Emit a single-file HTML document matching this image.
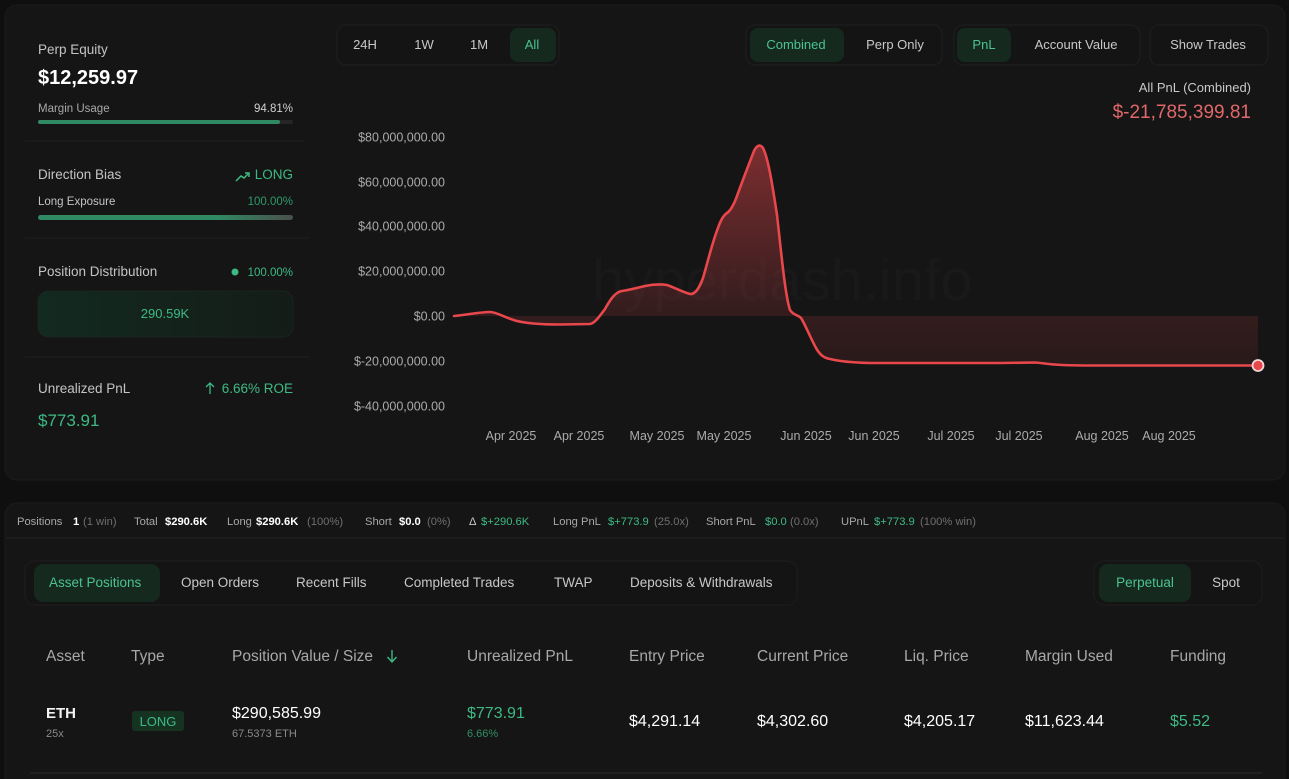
<!DOCTYPE html>
<html><head><meta charset="utf-8"><style>
html,body{margin:0;padding:0;background:#0f0f0f;}
svg{display:block;}
text{font-family:"Liberation Sans",Arial,sans-serif;}
</style></head><body>
<svg width="1289" height="779" viewBox="0 0 1289 779" xmlns="http://www.w3.org/2000/svg">
<defs>
<linearGradient id="area" gradientUnits="userSpaceOnUse" x1="0" y1="140" x2="0" y2="370">
<stop offset="0" stop-color="#e8474c" stop-opacity="0.5"/>
<stop offset="0.74" stop-color="#e8474c" stop-opacity="0.15"/>
<stop offset="1" stop-color="#e8474c" stop-opacity="0.09"/>
</linearGradient>
<linearGradient id="exp" x1="0" x2="1" y1="0" y2="0">
<stop offset="0" stop-color="#2f8a63"/><stop offset="0.7" stop-color="#2f8a63"/><stop offset="1" stop-color="#4a4f4c"/>
</linearGradient>
<linearGradient id="box" x1="0" x2="1" y1="0" y2="0">
<stop offset="0" stop-color="#132a20"/><stop offset="1" stop-color="#141c18"/>
</linearGradient>
</defs>
<rect x="0" y="0" width="1289" height="779" fill="#0f0f0f"/>
<!-- top card -->
<rect x="5" y="5" width="1280" height="475" rx="12" fill="#151515" stroke="#1b1b1b"/>

<!-- left panel -->
<text x="38" y="54" font-size="13.5" fill="#c4c4c4">Perp Equity</text>
<text x="38" y="84" font-size="20" font-weight="bold" fill="#ffffff">$12,259.97</text>
<text x="38" y="112" font-size="11.5" fill="#a8a8a8">Margin Usage</text>
<text x="293" y="112" font-size="11.5" fill="#d0d0d0" text-anchor="end">94.81%</text>
<rect x="38" y="120" width="255" height="4" rx="2" fill="#262626"/>
<rect x="38" y="120" width="242" height="4" rx="2" fill="#2f8a63"/>
<line x1="25" y1="141" x2="305" y2="141" stroke="#202020"/>

<text x="38" y="179" font-size="13.5" fill="#c4c4c4">Direction Bias</text>
<polyline points="236,181 241,176 244,178 249,173" fill="none" stroke="#3dba84" stroke-width="1.5"/>
<polyline points="245,173 249,173 249,177" fill="none" stroke="#3dba84" stroke-width="1.5"/>
<text x="293" y="179" font-size="13.5" fill="#3dba84" text-anchor="end">LONG</text>
<text x="38" y="205" font-size="11.5" fill="#c4c4c4">Long Exposure</text>
<text x="293" y="205" font-size="11.5" fill="#2f9a6c" text-anchor="end">100.00%</text>
<rect x="38" y="215" width="255" height="5" rx="2.5" fill="url(#exp)"/>
<line x1="25" y1="238" x2="310" y2="238" stroke="#202020"/>

<text x="38" y="276" font-size="13.5" fill="#c4c4c4">Position Distribution</text>
<circle cx="235" cy="272" r="3.5" fill="#3dba84"/>
<text x="293" y="276" font-size="11.5" fill="#3dba84" text-anchor="end">100.00%</text>
<rect x="38" y="291" width="255" height="46" rx="10" fill="url(#box)" stroke="#1a2520"/>
<text x="165" y="318" font-size="13" fill="#3dba84" text-anchor="middle">290.59K</text>
<line x1="25" y1="357" x2="310" y2="357" stroke="#202020"/>

<text x="38" y="393" font-size="13.5" fill="#c4c4c4">Unrealized PnL</text>
<line x1="210" y1="383" x2="210" y2="394" stroke="#3dba84" stroke-width="1.3"/>
<polyline points="206,387 210,383 214,387" fill="none" stroke="#3dba84" stroke-width="1.3"/>
<text x="293" y="393" font-size="13.5" fill="#3dba84" text-anchor="end">6.66% ROE</text>
<text x="38" y="426" font-size="17" fill="#3dba84">$773.91</text>

<!-- top buttons -->
<rect x="337" y="25" width="222" height="40" rx="9" fill="#141414" stroke="#1f1f1f"/>
<rect x="510" y="28" width="46" height="34" rx="8" fill="#15291f"/>
<text y="49" font-size="13" text-anchor="middle" fill="#c8c8c8"><tspan x="365">24H</tspan><tspan x="424">1W</tspan><tspan x="479">1M</tspan></text>
<text x="532" y="49" font-size="13" text-anchor="middle" fill="#4cc38f">All</text>

<rect x="746" y="25" width="196" height="40" rx="9" fill="#141414" stroke="#1f1f1f"/>
<rect x="750" y="28" width="94" height="34" rx="8" fill="#15291f"/>
<text x="796" y="49" font-size="13" text-anchor="middle" fill="#4cc38f">Combined</text>
<text x="895" y="49" font-size="13" text-anchor="middle" fill="#c8c8c8">Perp Only</text>

<rect x="954" y="25" width="186" height="40" rx="9" fill="#141414" stroke="#1f1f1f"/>
<rect x="957" y="28" width="54" height="34" rx="8" fill="#15291f"/>
<text x="984" y="49" font-size="13" text-anchor="middle" fill="#4cc38f">PnL</text>
<text x="1076" y="49" font-size="13" text-anchor="middle" fill="#c8c8c8">Account Value</text>

<rect x="1150" y="25" width="118" height="40" rx="9" fill="#141414" stroke="#1f1f1f"/>
<text x="1208" y="49" font-size="13" text-anchor="middle" fill="#c8c8c8">Show Trades</text>

<text x="1251" y="92" font-size="13" text-anchor="end" fill="#c8c8c8">All PnL (Combined)</text>
<text x="1251" y="118" font-size="19" text-anchor="end" fill="#e0686a">$-21,785,399.81</text>

<!-- watermark -->
<text x="592" y="300" font-size="58" fill="#ffffff" fill-opacity="0.018">hyperdash.info</text>

<!-- y axis -->
<g font-size="12.5" fill="#ababab" text-anchor="end">
<text x="445" y="141.5">$80,000,000.00</text>
<text x="445" y="186.5">$60,000,000.00</text>
<text x="445" y="230.5">$40,000,000.00</text>
<text x="445" y="275.5">$20,000,000.00</text>
<text x="445" y="320.5">$0.00</text>
<text x="445" y="365.5">$-20,000,000.00</text>
<text x="445" y="410.5">$-40,000,000.00</text>
</g>
<!-- x axis -->
<g font-size="12.5" fill="#ababab" text-anchor="middle">
<text x="511" y="440">Apr 2025</text>
<text x="579" y="440">Apr 2025</text>
<text x="657" y="440">May 2025</text>
<text x="724" y="440">May 2025</text>
<text x="806" y="440">Jun 2025</text>
<text x="874" y="440">Jun 2025</text>
<text x="951" y="440">Jul 2025</text>
<text x="1019" y="440">Jul 2025</text>
<text x="1102" y="440">Aug 2025</text>
<text x="1169" y="440">Aug 2025</text>
</g>

<!-- area + line -->
<path fill="url(#area)" d="M454,316 C465,315 480,312 490,312 C497,312 505,318 517,321 C527,323.5 545,324.5 560,324.5 L590,324 C595,323 599,317 605,309 C610,300 615,292 622,291 C628,290 635,288.5 645,286 C652,284.5 660,284 667,285 C673,287 683,292 690,294 C695,294.5 699,289 703,278 C707,265 712,243 718,228 C721,219 724,215 727,213 C730,211 733,207 737,196 C742,182 749,164 754,151 C757,145 760,144 763,148 C768,158 772,182 777,215 C781,250 785,295 790,310 C793,315 798,315 801,318 C805,324 810,337 816,348 C820,355 824,358 830,359 C838,361 850,362.5 870,363 L1000,363 L1035,362.5 C1042,363 1050,364.5 1062,365 C1075,365.5 1085,365.5 1095,365.5 L1258,365.5 L1258,316 Z"/>
<path fill="none" stroke="#e8474c" stroke-width="2.6" stroke-linejoin="round" stroke-linecap="round" d="M454,316 C465,315 480,312 490,312 C497,312 505,318 517,321 C527,323.5 545,324.5 560,324.5 L590,324 C595,323 599,317 605,309 C610,300 615,292 622,291 C628,290 635,288.5 645,286 C652,284.5 660,284 667,285 C673,287 683,292 690,294 C695,294.5 699,289 703,278 C707,265 712,243 718,228 C721,219 724,215 727,213 C730,211 733,207 737,196 C742,182 749,164 754,151 C757,145 760,144 763,148 C768,158 772,182 777,215 C781,250 785,295 790,310 C793,315 798,315 801,318 C805,324 810,337 816,348 C820,355 824,358 830,359 C838,361 850,362.5 870,363 L1000,363 L1035,362.5 C1042,363 1050,364.5 1062,365 C1075,365.5 1085,365.5 1095,365.5 L1258,365.5"/>
<circle cx="1258" cy="365.5" r="5.5" fill="#e8474c" stroke="#f3d6d6" stroke-width="1.8"/>

<!-- bottom card -->
<rect x="5" y="503" width="1280" height="290" rx="12" fill="#151515" stroke="#1b1b1b"/>
<g font-size="11.2">
<text x="17" y="525" fill="#a8a8a8">Positions</text>
<text x="73" y="525" fill="#ffffff" font-weight="bold">1</text>
<text x="83" y="525" fill="#6f6f6f">(1 win)</text>
<text x="134" y="525" fill="#a8a8a8">Total</text>
<text x="165" y="525" fill="#ffffff" font-weight="bold">$290.6K</text>
<text x="227" y="525" fill="#a8a8a8">Long</text>
<text x="256" y="525" fill="#ffffff" font-weight="bold">$290.6K</text>
<text x="307" y="525" fill="#6f6f6f">(100%)</text>
<text x="365" y="525" fill="#a8a8a8">Short</text>
<text x="399" y="525" fill="#ffffff" font-weight="bold">$0.0</text>
<text x="427" y="525" fill="#6f6f6f">(0%)</text>
<text x="469" y="525" fill="#c8c8c8">Δ</text>
<text x="481" y="525" fill="#3dba84">$+290.6K</text>
<text x="553" y="525" fill="#a8a8a8">Long PnL</text>
<text x="608" y="525" fill="#3dba84">$+773.9</text>
<text x="654" y="525" fill="#6f6f6f">(25.0x)</text>
<text x="706" y="525" fill="#a8a8a8">Short PnL</text>
<text x="765" y="525" fill="#3dba84">$0.0</text>
<text x="790" y="525" fill="#6f6f6f">(0.0x)</text>
<text x="841" y="525" fill="#a8a8a8">UPnL</text>
<text x="874" y="525" fill="#3dba84">$+773.9</text>
<text x="920" y="525" fill="#6f6f6f">(100% win)</text>
</g>
<line x1="6" y1="538" x2="1283" y2="538" stroke="#242424"/>

<rect x="25" y="561" width="772" height="44" rx="10" fill="#141414" stroke="#1e1e1e"/>
<rect x="34" y="564" width="126" height="38" rx="9" fill="#15291f"/>
<g font-size="13.5" fill="#c8c8c8">
<text x="49" y="587" fill="#4cc38f">Asset Positions</text>
<text x="181" y="587">Open Orders</text>
<text x="296" y="587">Recent Fills</text>
<text x="404" y="587">Completed Trades</text>
<text x="554" y="587">TWAP</text>
<text x="630" y="587">Deposits &amp; Withdrawals</text>
</g>
<rect x="1094" y="561" width="168" height="44" rx="10" fill="#141414" stroke="#1e1e1e"/>
<rect x="1099" y="564" width="92" height="38" rx="9" fill="#15291f"/>
<text x="1145" y="587" font-size="13.5" fill="#4cc38f" text-anchor="middle">Perpetual</text>
<text x="1226" y="587" font-size="13.5" fill="#c8c8c8" text-anchor="middle">Spot</text>

<!-- table header -->
<g font-size="15.5" fill="#a8a8a8">
<text x="46" y="661">Asset</text>
<text x="131" y="661">Type</text>
<text x="232" y="661">Position Value / Size</text>
<text x="467" y="661">Unrealized PnL</text>
<text x="629" y="661">Entry Price</text>
<text x="757" y="661">Current Price</text>
<text x="904" y="661">Liq. Price</text>
<text x="1025" y="661">Margin Used</text>
<text x="1170" y="661">Funding</text>
</g>
<line x1="392" y1="650" x2="392" y2="662" stroke="#3dba84" stroke-width="1.4"/>
<polyline points="387.5,657 392,662 396.5,657" fill="none" stroke="#3dba84" stroke-width="1.4"/>

<!-- row -->
<text x="46" y="718" font-size="15" font-weight="bold" fill="#f2f2f2">ETH</text>
<text x="46" y="737" font-size="11" fill="#8a8a8a">25x</text>
<rect x="132" y="711" width="52" height="20" rx="3" fill="#163322"/>
<text x="158" y="726" font-size="13" fill="#3dba84" text-anchor="middle">LONG</text>
<text x="232" y="718" font-size="16" fill="#ffffff">$290,585.99</text>
<text x="232" y="737" font-size="11" fill="#8a8a8a">67.5373 ETH</text>
<text x="467" y="718" font-size="16" fill="#3dba84">$773.91</text>
<text x="467" y="737" font-size="11" fill="#2f8f63">6.66%</text>
<g font-size="16" fill="#ffffff">
<text x="629" y="726">$4,291.14</text>
<text x="757" y="726">$4,302.60</text>
<text x="904" y="726">$4,205.17</text>
<text x="1025" y="726">$11,623.44</text>
</g>
<text x="1170" y="726" font-size="16" fill="#3dba84">$5.52</text>
<line x1="30" y1="773" x2="1262" y2="773" stroke="#2a2a2a"/>
</svg>
</body></html>
